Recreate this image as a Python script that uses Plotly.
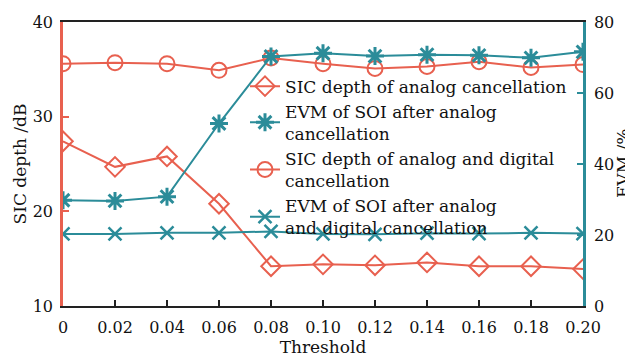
import plotly.graph_objects as go

threshold = [0, 0.02, 0.04, 0.06, 0.08, 0.10, 0.12, 0.14, 0.16, 0.18, 0.20]
x_tick_text = ["0", "0.02", "0.04", "0.06", "0.08", "0.10", "0.12", "0.14", "0.16", "0.18", "0.20"]

sic_analog = [27.4, 24.7, 25.8, 20.8, 14.2, 14.4, 14.3, 14.6, 14.2, 14.2, 13.9]
sic_analog_digital = [35.6, 35.7, 35.6, 34.9, 36.2, 35.6, 35.1, 35.3, 35.8, 35.2, 35.5]
evm_analog = [29.8, 29.6, 30.8, 51.4, 70.3, 71.2, 70.4, 70.8, 70.6, 69.9, 71.6]
evm_analog_digital = [20.3, 20.3, 20.6, 20.6, 21.0, 20.3, 20.2, 20.5, 20.4, 20.6, 20.4]

RED = "#E8604F"
TEAL = "#2B8C99"
FONT = "DejaVu Serif"
TXT = "#111111"

fig = go.Figure()
fig.add_trace(go.Scatter(
    x=threshold, y=sic_analog, mode="lines+markers", name="SIC depth of analog cancellation",
    line=dict(color=RED, width=2),
    marker=dict(symbol="diamond-open", size=15, color=RED, line=dict(width=2)),
))
fig.add_trace(go.Scatter(
    x=threshold, y=evm_analog, mode="lines+markers", name="EVM of SOI after analog<br>cancellation",
    yaxis="y2",
    line=dict(color=TEAL, width=2),
    marker=dict(symbol="asterisk-open", size=15, color=TEAL, line=dict(width=3, color=TEAL)),
))
fig.add_trace(go.Scatter(
    x=threshold, y=sic_analog_digital, mode="lines+markers", name="SIC depth of analog and digital<br>cancellation",
    line=dict(color=RED, width=2),
    marker=dict(symbol="circle-open", size=15, color=RED, line=dict(width=2)),
))
fig.add_trace(go.Scatter(
    x=threshold, y=evm_analog_digital, mode="lines+markers", name="EVM of SOI after analog<br>and digital cancellation",
    yaxis="y2",
    line=dict(color=TEAL, width=2),
    marker=dict(symbol="x-thin-open", size=13, color=TEAL, line=dict(width=2.5, color=TEAL)),
))

# page body has an 8px default margin, so the figure is shrunk by 8px
fig.update_layout(
    width=625, height=354,
    margin=dict(l=55, r=50, t=5, b=56),
    plot_bgcolor="white", paper_bgcolor="white",
    font=dict(family=FONT, size=16, color=TXT),
    showlegend=True,
    legend=dict(
        x=0.35, y=0.836, xanchor="left", yanchor="top",
        bgcolor="rgba(0,0,0,0)", borderwidth=0,
        font=dict(family=FONT, size=17, color=TXT),
        tracegroupgap=0, itemwidth=30,
    ),
    xaxis=dict(
        range=[0, 0.20], tickvals=threshold, ticktext=x_tick_text,
        showgrid=False, zeroline=False,
        showline=True, linecolor="#222222", linewidth=2, mirror=True,
        ticks="inside", ticklen=6, tickwidth=2, tickcolor="#222222",
        ticklabelstandoff=6,
        title=dict(text="Threshold", font=dict(family=FONT, size=17), standoff=4),
        tickfont=dict(family=FONT, size=16),
    ),
    yaxis=dict(
        range=[10, 40], tickvals=[10, 20, 30, 40],
        showgrid=False, zeroline=False,
        showline=True, linecolor=RED, linewidth=2.5,
        ticks="inside", ticklen=6, tickwidth=2, tickcolor=RED,
        ticklabelstandoff=4, ticklabeloverflow="allow",
        title=dict(text="SIC depth /dB", font=dict(family=FONT, size=17), standoff=2),
        tickfont=dict(family=FONT, size=16),
    ),
    yaxis2=dict(
        range=[0, 80], tickvals=[0, 20, 40, 60, 80],
        overlaying="y", side="right", anchor="x",
        showgrid=False, zeroline=False,
        showline=True, linecolor=TEAL, linewidth=2.5,
        ticks="inside", ticklen=6, tickwidth=2, tickcolor=TEAL,
        ticklabelstandoff=5, ticklabeloverflow="allow",
        tickfont=dict(family=FONT, size=16),
    ),
    annotations=[dict(
        text="EVM /%", xref="paper", yref="paper", x=1.077, y=0.5,
        xanchor="center", yanchor="middle", textangle=-90, showarrow=False,
        font=dict(family=FONT, size=17, color=TXT),
    )],
)

fig.write_html("out.html")
